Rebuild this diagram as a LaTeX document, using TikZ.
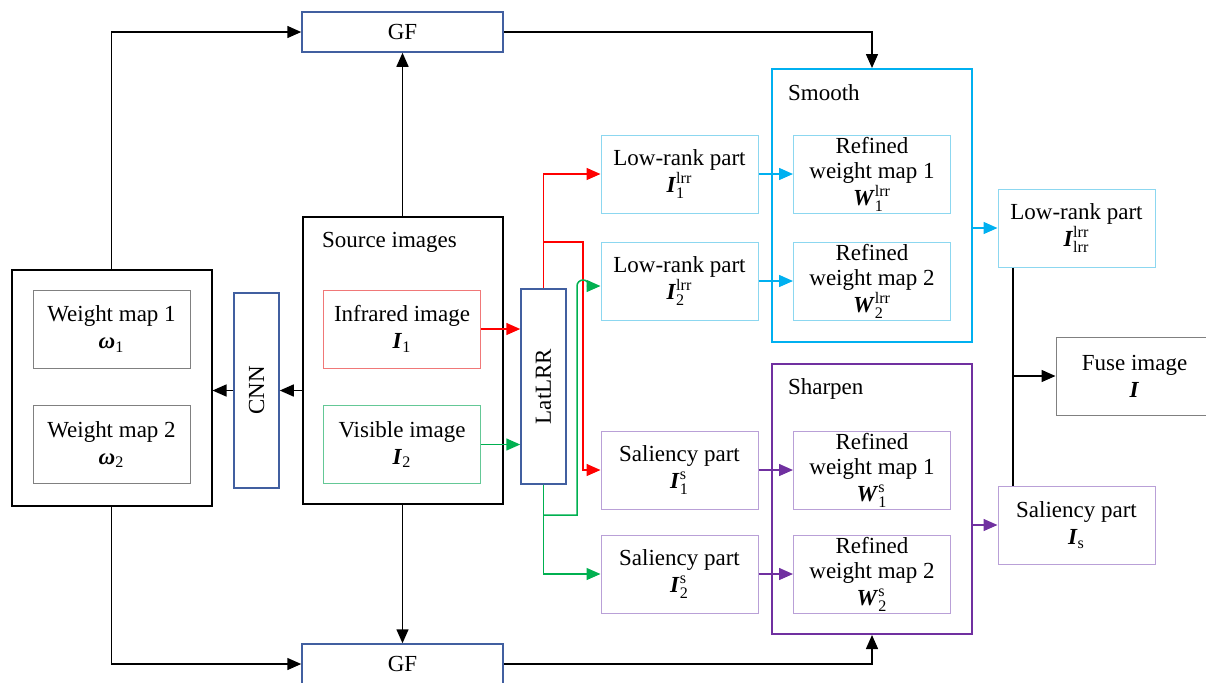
\documentclass[tikz,border=0pt]{standalone}
\usepackage{fontspec}
\usepackage{amsmath}
\setmainfont{Liberation Serif}
\usetikzlibrary{arrows.meta,calc}

\definecolor{boxblue}{RGB}{65,95,160}
\definecolor{lred}{RGB}{240,120,120}
\definecolor{dgreen}{RGB}{0,176,80}
\definecolor{lgreen}{RGB}{100,200,150}
\definecolor{dcyan}{RGB}{0,176,240}
\definecolor{lcyan}{RGB}{140,215,240}
\definecolor{dpurple}{RGB}{112,48,160}
\definecolor{lpurple}{RGB}{185,160,215}
\definecolor{mgray}{RGB}{128,128,128}

\newcommand{\bvar}[1]{\textbf{\textit{#1}}}

\begin{document}
\begin{tikzpicture}[x=0.5pt,y=-0.5pt,
	font=\fontsize{11.5}{12.5}\selectfont,
	>={Triangle[length=7pt,width=6pt]},
	box/.style={draw,line width=0.5pt,inner sep=0pt,align=center,minimum width=78.5pt,minimum height=39pt},
	frame/.style={draw,line width=1pt,inner sep=0pt,minimum width=100pt},
	bluebox/.style={draw=boxblue,line width=0.75pt,inner sep=0pt},
	arr/.style={->,line width=0.75pt}]
	\useasboundingbox (0,0) rectangle (1206,682);
	%	containers first
	\node[frame,minimum height=118pt] (wts) at (111.5,388) {};
	\node[frame,minimum height=143.5pt] (src) at (402.5,360.5) {};
	\node[anchor=west] at (315,242) {Source images};
	\node[frame,draw=dcyan,minimum height=136.5pt] (smooth) at (872,205.5) {};
	\node[anchor=west] at (781,93) {Smooth};
	\node[frame,draw=dpurple,minimum height=135pt] (sharpen) at (872,499) {};
	\node[anchor=west] at (781,389) {Sharpen};
	%	filters and networks
	\node[bluebox,minimum width=100.5pt,minimum height=20pt] (gftop) at (402.5,32) {GF};
	\node[bluebox,minimum width=100.5pt,minimum height=20pt] (gfbot) at (402.5,664) {GF};
	\node[bluebox,minimum width=22.5pt,minimum height=97.5pt] (cnn) at (256.5,390.5) {\rotatebox{90}{CNN}};
	\node[bluebox,minimum width=22.5pt,minimum height=97.5pt] (lat) at (543.5,386.5) {\rotatebox{90}{LatLRR}};
	%	weight maps
	\node[box,draw=mgray] (w1) at (111.5,329) {Weight map 1\\[1pt] $\bvar{ω}_{\text{1}}$};
	\node[box,draw=mgray] (w2) at (111.5,444.5) {Weight map 2\\[1pt] $\bvar{ω}_{\text{2}}$};
	%	source images
	\node[box,draw=lred] (ir) at (402,329) {Infrared image\\[1pt] $\bvar{I}_{\text{1}}$};
	\node[box,draw=lgreen] (vis) at (402,444.5) {Visible image\\[1pt] $\bvar{I}_{\text{2}}$};
	%	decomposed parts
	\node[box,draw=lcyan] (lr1) at (679.5,174) {Low-rank part\\[1pt] $\bvar{I}^{\text{lrr}}_{\text{1}}$};
	\node[box,draw=lcyan] (lr2) at (679.5,281) {Low-rank part\\[1pt] $\bvar{I}^{\text{lrr}}_{\text{2}}$};
	\node[box,draw=lpurple] (sal1) at (679.5,470) {Saliency part\\[1pt] $\bvar{I}^{\text{s}}_{\text{1}}$};
	\node[box,draw=lpurple] (sal2) at (679.5,574) {Saliency part\\[1pt] $\bvar{I}^{\text{s}}_{\text{2}}$};
	%	refined weights
	\node[box,draw=lcyan] (rs1) at (872,174) {Refined\\ weight map 1\\[1pt] $\bvar{W}^{\text{lrr}}_{\text{1}}$};
	\node[box,draw=lcyan] (rs2) at (872,281) {Refined\\ weight map 2\\[1pt] $\bvar{W}^{\text{lrr}}_{\text{2}}$};
	\node[box,draw=lpurple] (rp1) at (872,470) {Refined\\ weight map 1\\[1pt] $\bvar{W}^{\text{s}}_{\text{1}}$};
	\node[box,draw=lpurple] (rp2) at (872,574) {Refined\\ weight map 2\\[1pt] $\bvar{W}^{\text{s}}_{\text{2}}$};
	%	fused parts and result
	\node[box,draw=lcyan] (lrout) at (1076.5,228) {Low-rank part\\[1pt] $\bvar{I}^{\text{lrr}}_{\text{lrr}}$};
	\node[box,draw=lpurple] (salout) at (1076.5,525) {Saliency part\\[1pt] $\bvar{I}_{\text{s}}$};
	\node[box,draw=mgray] (fuse) at (1134.5,376) {Fuse image\\[1pt] $\bvar{I}$};
	
	%	black connectors
	\draw[arr] (src.north) -- (gftop.south);
	\draw[arr] (src.south) -- (gfbot.north);
	\draw[arr] (src.west |- cnn.east) -- (cnn.east);
	\draw[arr] (cnn.west) -- (cnn.west -| wts.east);
	\draw[arr] (wts.north) |- (gftop.west);
	\draw[arr] (wts.south) |- (gfbot.west);
	\draw[arr] (gftop.east) -| (smooth.north);
	\draw[arr] (gfbot.east) -| (sharpen.south);
	%	into LatLRR
	\draw[arr,red] (ir.east) -- (ir.east -| lat.west);
	\draw[arr,dgreen] (vis.east) -- (vis.east -| lat.west);
	%	out of LatLRR
	\coordinate (rsplit) at (543.5,242);
	\coordinate (rturn) at (583,242);
	\coordinate (gsplit) at (543.5,515);
	\coordinate (gturn) at (577,515);
	\draw[arr,red] (lat.north) |- (lr1.west);
	\draw[arr,red] (rsplit) -- (rturn) |- (sal1.west);
	\draw[arr,dgreen] (lat.south) |- (sal2.west);
	\draw[arr,dgreen] (gsplit) -- (gturn) -- (577,286) arc (180:0:3pt) -- (lr2.west |- 589,286);
	%	smooth and sharpen
	\draw[arr,dcyan] (lr1.east) -- (rs1.west);
	\draw[arr,dcyan] (lr2.east) -- (rs2.west);
	\draw[arr,dpurple] (sal1.east) -- (rp1.west);
	\draw[arr,dpurple] (sal2.east) -- (rp2.west);
	\draw[arr,dcyan] (smooth.east |- lrout.west) -- (lrout.west);
	\draw[arr,dpurple] (sharpen.east |- salout.west) -- (salout.west);
	%	fusion
	\coordinate (bus) at (1013,376);
	\draw[line width=0.75pt] (lrout.south -| bus) -- (salout.north -| bus);
	\draw[arr] (bus) -- (fuse.west);
\end{tikzpicture}
\end{document}
